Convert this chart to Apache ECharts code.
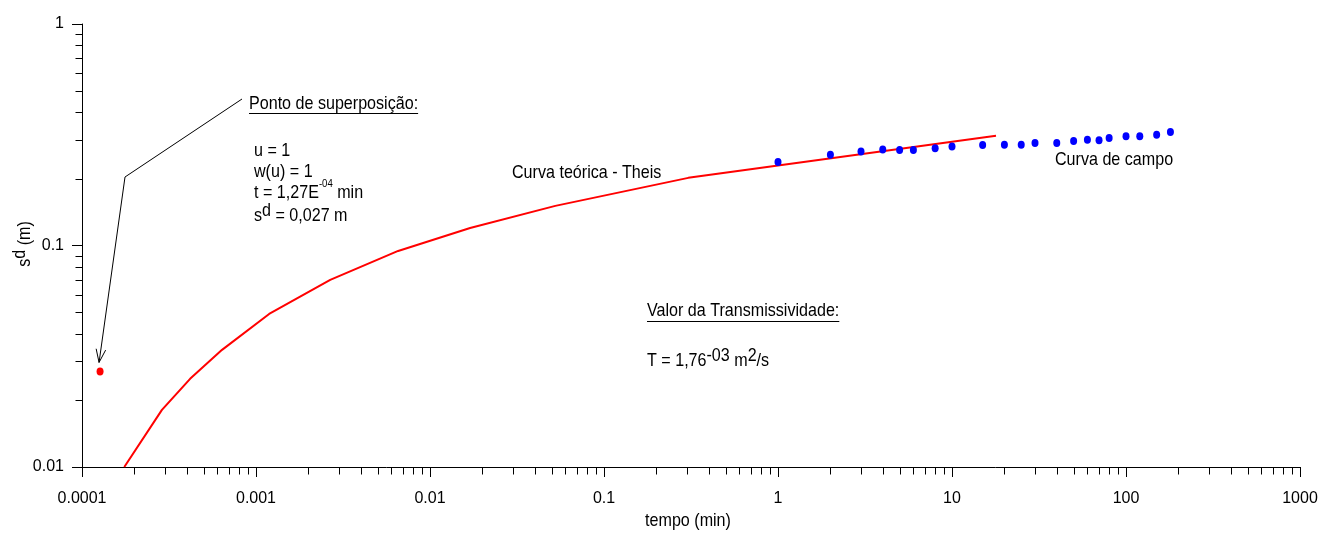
<!DOCTYPE html>
<html>
<head>
<meta charset="utf-8">
<script src="https://cdn.jsdelivr.net/npm/echarts@6/dist/echarts.min.js"></script>
<style>
  html, body { margin: 0; padding: 0; background: #fff; }
  #chart { width: 1322px; height: 533px; }
</style>
</head>
<body>
<div id="chart"></div>
<script>
// ---- data -------------------------------------------------------------
// Theis type curve, scaled to the match point (time in min, drawdown in m)
const theisTime     = [0.000175, 0.000288, 0.000418, 0.000638, 0.00119, 0.00267, 0.00656, 0.0170, 0.0525, 0.305, 17.9];
const theisDrawdown = [0.0100,   0.0181,   0.0250,   0.0338,   0.0491,  0.0700,  0.0945,  0.120,  0.151,  0.202, 0.313];

// Pumping test field readings
const fieldTime     = [1, 2, 3, 4, 5, 6, 8, 10, 15, 20, 25, 30, 40, 50, 60, 70, 80, 100, 120, 150, 180];
const fieldDrawdown = [0.238, 0.257, 0.266, 0.271, 0.270, 0.270, 0.275, 0.280, 0.284, 0.285, 0.285,
                       0.290, 0.290, 0.296, 0.300, 0.299, 0.306, 0.311, 0.311, 0.316, 0.325];

// Superposition (match) point
const matchTime     = [0.000127];
const matchDrawdown = [0.027];

// Axis tick labels (one per decade)
const xTickLabels = ['0.0001', '0.001', '0.01', '0.1', '1', '10', '100', '1000'];
const yTickLabels = ['0.01', '0.1', '1'];
const xDecades = [-4, -3, -2, -1, 0, 1, 2];
const yDecades = [-2, -1];
const minorMultipliers = [2, 3, 4, 5, 6, 7, 8, 9];

// ---- styling ----------------------------------------------------------
const FONT = '"Liberation Sans", Arial, sans-serif';
const FS = 18.5;      // annotation text size
const SX = 0.87;      // horizontal condensing of annotation text
const TICK_FS = 16;

const xMinorTicks = [];
xDecades.forEach(d => minorMultipliers.forEach(m => xMinorTicks.push(m * Math.pow(10, d))));
const yMinorTicks = [];
yDecades.forEach(d => minorMultipliers.forEach(m => yMinorTicks.push(m * Math.pow(10, d))));

const X_MIN = 1e-4, X_MAX = 1000, Y_MIN = 0.01, Y_MAX = 1;

const rich = {
  n:  { fontSize: FS, fontFamily: FONT, color: '#000', lineHeight: 30 },
  up: { fontSize: FS, fontFamily: FONT, color: '#000', lineHeight: 20, verticalAlign: 'top' },
  sm: { fontSize: 11, fontFamily: FONT, color: '#000', lineHeight: 20, verticalAlign: 'top' }
};

function label(x, y, text, align, rotation) {
  return {
    type: 'text', x: x, y: y, silent: true, z: 10,
    scaleX: SX, scaleY: 1, rotation: rotation || 0,
    style: {
      text: text, rich: rich, fontSize: FS, fontFamily: FONT, fill: '#000',
      align: align || 'left', verticalAlign: 'middle',
      textAlign: align || 'left', textVerticalAlign: 'middle'
    }
  };
}

function textWidth(str) {
  const c = document.createElement('canvas').getContext('2d');
  c.font = FS + 'px ' + FONT;
  return c.measureText(str).width * SX;
}

function minorTickSeries(values, vertical) {
  return {
    type: 'custom',
    silent: true,
    clip: false,
    z: 5,
    data: values.map(v => vertical ? [X_MIN, v] : [v, Y_MIN]),
    renderItem: function (params, api) {
      const p = api.coord([api.value(0), api.value(1)]);
      const px = Math.round(p[0]) + 0.5, py = Math.round(p[1]) + 0.5;
      const shape = vertical
        ? { x1: px - 7, y1: py, x2: px, y2: py }
        : { x1: px, y1: py, x2: px, y2: py + 7 };
      return { type: 'line', shape: shape, style: { stroke: '#000', lineWidth: 1 } };
    }
  };
}

const chart = echarts.init(document.getElementById('chart'), null, { renderer: 'canvas' });

const option = {
  animation: false,
  backgroundColor: '#fff',
  grid: { left: 82, right: 22, top: 24, bottom: 66 },
  xAxis: {
    type: 'log', logBase: 10, min: X_MIN, max: X_MAX, splitNumber: 7,
    axisLine: { show: true, onZero: false, lineStyle: { color: '#000', width: 1 } },
    axisTick: { show: true, inside: false, length: 10, lineStyle: { color: '#000', width: 1 } },
    axisLabel: {
      margin: 24, color: '#000', fontFamily: FONT, fontSize: TICK_FS,
      formatter: v => xTickLabels[Math.round(Math.log10(v)) - Math.round(Math.log10(X_MIN))]
    },
    splitLine: { show: false },
    minorTick: { show: false }
  },
  yAxis: {
    type: 'log', logBase: 10, min: Y_MIN, max: Y_MAX, splitNumber: 2,
    axisLine: { show: true, onZero: false, lineStyle: { color: '#000', width: 1 } },
    axisTick: { show: true, inside: false, length: 10, lineStyle: { color: '#000', width: 1 } },
    axisLabel: {
      margin: 18, color: '#000', fontFamily: FONT, fontSize: TICK_FS,
      formatter: v => yTickLabels[Math.round(Math.log10(v)) - Math.round(Math.log10(Y_MIN))]
    },
    splitLine: { show: false },
    minorTick: { show: false }
  },
  series: [
    {
      name: 'Curva teórica - Theis',
      type: 'line',
      data: theisTime.map((t, i) => [t, theisDrawdown[i]]),
      showSymbol: false,
      lineStyle: { color: '#ff0000', width: 2 },
      clip: true,
      z: 3
    },
    {
      name: 'Curva de campo',
      type: 'scatter',
      data: fieldTime.map((t, i) => [t, fieldDrawdown[i]]),
      symbol: 'circle',
      symbolSize: [7, 8],
      itemStyle: { color: '#0000ff', opacity: 1 },
      z: 4
    },
    {
      name: 'Ponto de superposição',
      type: 'scatter',
      data: matchTime.map((t, i) => [t, matchDrawdown[i]]),
      symbol: 'circle',
      symbolSize: [7, 8],
      itemStyle: { color: '#ff0000', opacity: 1 },
      z: 4
    },
    minorTickSeries(xMinorTicks, false),
    minorTickSeries(yMinorTicks, true)
  ]
};

chart.setOption(option);

// ---- annotations -------------------------------------------------------
const tip0 = chart.convertToPixel({ gridIndex: 0 }, [matchTime[0], matchDrawdown[0]]);
const tip = [tip0[0] - 1, tip0[1] - 9];
const knee = [125, 177];
const start = [242, 99];
const dx = knee[0] - tip[0], dy = knee[1] - tip[1];
const len = Math.sqrt(dx * dx + dy * dy);
const ux = dx / len, uy = dy / len;
const ang = 20 * Math.PI / 180, hl = 14;
function wing(sign) {
  const c = Math.cos(sign * ang), s = Math.sin(sign * ang);
  return [tip[0] + hl * (ux * c - uy * s), tip[1] + hl * (ux * s + uy * c)];
}

const pontoText = 'Ponto de superposição:';
const valorText = 'Valor da Transmissividade:';

chart.setOption({
  graphic: [
    { type: 'polyline', silent: true, shape: { points: [start, knee, tip] }, style: { stroke: '#000', lineWidth: 1, fill: null } },
    { type: 'polyline', silent: true, shape: { points: [wing(1), tip, wing(-1)] }, style: { stroke: '#000', lineWidth: 1, fill: null } },

    label(249, 104, pontoText),
    { type: 'line', silent: true, shape: { x1: 249, y1: 113.5, x2: 249 + textWidth(pontoText), y2: 113.5 }, style: { stroke: '#000', lineWidth: 1 } },
    label(254, 151, '{n|u = 1}'),
    label(254, 172, '{n|w(u) = 1}'),
    label(254, 193, '{n|t = 1,27E}{sm|-04}{n| min}'),
    label(254, 216, '{n|s}{up|d}{n| = 0,027 m}'),

    label(512, 173, 'Curva teórica - Theis'),
    label(1055, 160, 'Curva de campo'),

    label(647, 311, valorText),
    { type: 'line', silent: true, shape: { x1: 647, y1: 321.5, x2: 647 + textWidth(valorText), y2: 321.5 }, style: { stroke: '#000', lineWidth: 1 } },
    label(647, 361, '{n|T = 1,76}{up|-03}{n| m}{up|2}{n|/s}'),

    label(688, 521, 'tempo (min)', 'center'),
    label(25, 244, '{n|s}{up|d}{n| (m)}', 'center', Math.PI / 2)
  ]
});
</script>
</body>
</html>
